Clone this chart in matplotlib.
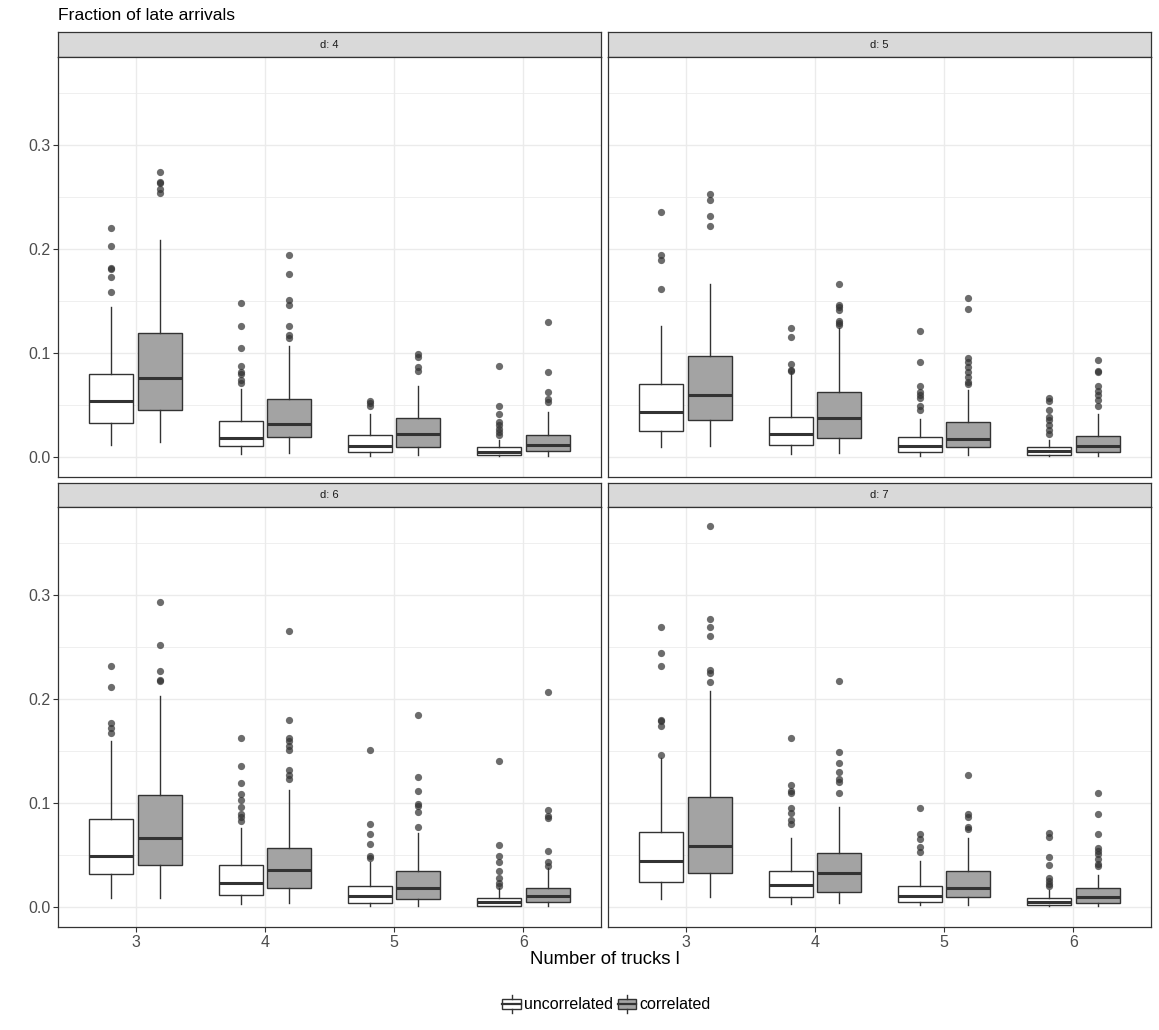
import numpy as np
import matplotlib
matplotlib.use("Agg")
import matplotlib.pyplot as plt
from matplotlib.patches import Rectangle
from matplotlib.lines import Line2D
from matplotlib.legend_handler import HandlerBase

plt.rcParams['font.family'] = ['Liberation Sans', 'DejaVu Sans']

trucks = [3, 4, 5, 6]
series = ["uncorrelated", "correlated"]
fills = ["#FFFFFF", "#A3A3A3"]
facets = ["d: 4", "d: 5", "d: 6", "d: 7"]

# (whisker low, q1, median, q3, whisker high) for l = 3, 4, 5, 6
d4_unc = [(0.0115, 0.032, 0.0535, 0.0791, 0.144), (0.0026, 0.0099, 0.0183, 0.034, 0.065),
          (0.001, 0.0042, 0.0106, 0.0208, 0.041), (0.0006, 0.0019, 0.0045, 0.0093, 0.0163)]
d4_cor = [(0.0138, 0.0451, 0.0756, 0.1194, 0.2085), (0.0038, 0.0189, 0.0317, 0.056, 0.1063),
          (0.0013, 0.0093, 0.0221, 0.0375, 0.0676), (0.001, 0.0051, 0.0115, 0.0205, 0.0432)]
d5_unc = [(0.009, 0.0247, 0.0432, 0.0695, 0.1258), (0.0029, 0.0109, 0.0218, 0.0384, 0.082),
          (0.001, 0.0045, 0.0099, 0.0189, 0.0365), (0.0006, 0.0019, 0.0051, 0.0093, 0.0163)]
d5_cor = [(0.0099, 0.0352, 0.0589, 0.0967, 0.1662), (0.0035, 0.0183, 0.0371, 0.0618, 0.1236),
          (0.0019, 0.0093, 0.017, 0.033, 0.0644), (0.001, 0.0048, 0.0106, 0.0199, 0.0413)]
d6_unc = [(0.0083, 0.0314, 0.0487, 0.0843, 0.159), (0.0026, 0.0109, 0.0231, 0.0397, 0.0753),
          (0.001, 0.0035, 0.0099, 0.0202, 0.0426), (0.0003, 0.001, 0.0042, 0.0083, 0.0179)]
d6_cor = [(0.0083, 0.0401, 0.0663, 0.1074, 0.2029), (0.0035, 0.0179, 0.0356, 0.0564, 0.1125),
          (0.001, 0.0077, 0.0179, 0.0343, 0.0708), (0.001, 0.0042, 0.0099, 0.0176, 0.0372)]
d7_unc = [(0.0077, 0.024, 0.0436, 0.0721, 0.143), (0.0029, 0.0093, 0.0205, 0.0343, 0.0657),
          (0.0016, 0.0045, 0.0103, 0.0202, 0.0439), (0.0006, 0.0013, 0.0045, 0.0087, 0.016)]
d7_cor = [(0.009, 0.032, 0.058, 0.1054, 0.2077), (0.0032, 0.0144, 0.0324, 0.0519, 0.0958),
          (0.0019, 0.0093, 0.0183, 0.0343, 0.066), (0.001, 0.0038, 0.0096, 0.0179, 0.0301)]

# outliers for l = 3, 4, 5, 6
d4_unc_out = [[0.22, 0.2027, 0.182, 0.1806, 0.1732, 0.158],
              [0.148, 0.1255, 0.105, 0.087, 0.0813, 0.0797, 0.074, 0.0708],
              [0.054, 0.0516, 0.0484],
              [0.0868, 0.049, 0.0407, 0.0333, 0.0301, 0.0269, 0.0237, 0.0211]]
d4_cor_out = [[0.274, 0.264, 0.263, 0.258, 0.254],
              [0.1944, 0.1755, 0.1508, 0.1463, 0.126, 0.1172, 0.1143],
              [0.099, 0.0957, 0.0861, 0.0823],
              [0.13, 0.0817, 0.0624, 0.0557, 0.0525]]
d5_unc_out = [[0.2357, 0.1937, 0.1892, 0.1617],
              [0.1242, 0.1153, 0.0893, 0.0836, 0.082],
              [0.1214, 0.0916, 0.0679, 0.0618, 0.0589, 0.0564, 0.0484, 0.0451],
              [0.0564, 0.0532, 0.0445, 0.0381, 0.0349, 0.0301, 0.0253, 0.0221]]
d5_cor_out = [[0.2523, 0.2472, 0.2312, 0.2216],
              [0.1662, 0.1457, 0.1438, 0.1412, 0.131, 0.1284, 0.1268],
              [0.1527, 0.1425, 0.0948, 0.091, 0.0861, 0.0813, 0.0765, 0.0717, 0.0695],
              [0.0932, 0.0829, 0.0813, 0.0685, 0.0637, 0.0589, 0.0548, 0.0484]]
d6_unc_out = [[0.2311, 0.2109, 0.1766, 0.1718, 0.1673],
              [0.1619, 0.1349, 0.1189, 0.1087, 0.1022, 0.0958, 0.0894, 0.0859, 0.0821],
              [0.151, 0.0795, 0.0702, 0.0603, 0.0484, 0.0468],
              [0.1404, 0.0593, 0.049, 0.0426, 0.0346, 0.0276, 0.0228, 0.0202]]
d6_cor_out = [[0.2936, 0.2513, 0.2272, 0.2183, 0.2167],
              [0.2657, 0.1798, 0.1622, 0.159, 0.1542, 0.151, 0.1317, 0.1269, 0.1228],
              [0.184, 0.1247, 0.1109, 0.099, 0.0965, 0.091, 0.0766],
              [0.2061, 0.0933, 0.0875, 0.0853, 0.0538, 0.0426, 0.0394]]
d7_unc_out = [[0.2692, 0.2439, 0.2317, 0.1798, 0.1785, 0.1734, 0.1458],
              [0.1622, 0.1167, 0.1112, 0.1096, 0.0952, 0.0904, 0.083, 0.0798],
              [0.0949, 0.0696, 0.0647, 0.0574, 0.0526],
              [0.0712, 0.0667, 0.0478, 0.0401, 0.0279, 0.0247, 0.0215, 0.0199]]
d7_cor_out = [[0.3667, 0.2772, 0.2689, 0.2603, 0.2276, 0.225, 0.2157],
              [0.2176, 0.149, 0.1385, 0.1298, 0.1224, 0.1199, 0.1093],
              [0.1266, 0.0888, 0.0862, 0.0769, 0.0744],
              [0.109, 0.0894, 0.0696, 0.0567, 0.0535, 0.0503, 0.0455, 0.0407, 0.0391]]

facet_data = [
    ((d4_unc, d4_unc_out), (d4_cor, d4_cor_out)),
    ((d5_unc, d5_unc_out), (d5_cor, d5_cor_out)),
    ((d6_unc, d6_unc_out), (d6_cor, d6_cor_out)),
    ((d7_unc, d7_unc_out), (d7_cor, d7_cor_out)),
]

W, H = 1159, 1030
DARK = "#333333"


def box(x0, y0, x1, y1):
    return [x0 / W, 1 - y1 / H, (x1 - x0) / W, (y1 - y0) / H]


fig = plt.figure(figsize=(W / 100, H / 100), dpi=100)

cols = [(58, 601), (608, 1151)]
rows = [(32, 57, 477), (483, 507, 927)]
x = np.arange(len(trucks))
offsets = [-0.1875, 0.1875]

for k, label in enumerate(facets):
    r, c = divmod(k, 2)
    xl, xr = cols[c]
    st, pt, pb = rows[r]

    sax = fig.add_axes(box(xl, st, xr, pt))
    sax.set_facecolor("#D9D9D9")
    sax.set_xticks([])
    sax.set_yticks([])
    for s in sax.spines.values():
        s.set_color(DARK)
        s.set_linewidth(0.9)
    sax.text(0.5, 0.5, label, ha="center", va="center", fontsize=8, color="#1A1A1A",
             transform=sax.transAxes)

    ax = fig.add_axes(box(xl, pt, xr, pb))
    ax.set_xlim(-0.6, 3.6)
    ax.set_ylim(-0.0195, 0.3845)
    ax.set_yticks([0.0, 0.1, 0.2, 0.3])
    ax.set_yticks([0.05, 0.15, 0.25, 0.35], minor=True)
    ax.set_xticks(x)
    ax.grid(True, which="major", color="#EBEBEB", lw=1.0)
    ax.grid(True, which="minor", axis="y", color="#EBEBEB", lw=0.55)
    ax.set_axisbelow(True)
    for s in ax.spines.values():
        s.set_color(DARK)
        s.set_linewidth(0.9)
    ax.tick_params(which="minor", length=0)
    ax.tick_params(which="major", color=DARK, length=3.5, width=0.8,
                   labelsize=11.5, labelcolor="#4D4D4D", pad=2)
    if r == 1:
        ax.set_xticklabels([str(t) for t in trucks])
    else:
        ax.tick_params(axis="x", length=0, labelbottom=False)
    if c == 0:
        ax.set_yticklabels(["0.0", "0.1", "0.2", "0.3"])
    else:
        ax.tick_params(axis="y", length=0, labelleft=False)

    for j, (stats5, outs) in enumerate(facet_data[k]):
        stats = []
        for (lo, q1, med, q3, hi), fl in zip(stats5, outs):
            stats.append(dict(whislo=lo, q1=q1, med=med, q3=q3, whishi=hi, fliers=fl))
        ax.bxp(stats, positions=x + offsets[j], widths=0.34, patch_artist=True,
               showcaps=False,
               boxprops=dict(facecolor=fills[j], edgecolor=DARK, lw=1.0),
               medianprops=dict(color=DARK, lw=2.2, solid_capstyle="butt"),
               whiskerprops=dict(color=DARK, lw=1.0),
               flierprops=dict(marker="o", markerfacecolor=DARK, markeredgecolor="none",
                               markersize=5.2, alpha=0.72),
               manage_ticks=False)

fig.text(58 / W, 1 - 15 / H, "Fraction of late arrivals", ha="left", va="center",
         fontsize=12.6, color="black")
fig.text(605 / W, 1 - 960 / H, "Number of trucks l", ha="center", va="center",
         fontsize=13.3, color="black")


class BoxKey(HandlerBase):
    def create_artists(self, legend, orig_handle, xdescent, ydescent, width, height,
                       fontsize, trans):
        x0, y0 = -xdescent, -ydescent
        fc = orig_handle.get_facecolor()
        rect = Rectangle((x0 + 0.05 * width, y0 + 0.23 * height), 0.9 * width, 0.54 * height,
                         facecolor=fc, edgecolor=DARK, lw=1.0, transform=trans)
        med = Line2D([x0 + 0.05 * width, x0 + 0.95 * width], [y0 + 0.5 * height] * 2,
                     color=DARK, lw=1.6, transform=trans)
        w1 = Line2D([x0 + 0.5 * width] * 2, [y0, y0 + 0.23 * height],
                    color=DARK, lw=1.0, transform=trans)
        w2 = Line2D([x0 + 0.5 * width] * 2, [y0 + 0.77 * height, y0 + height],
                    color=DARK, lw=1.0, transform=trans)
        return [rect, med, w1, w2]


handles = [Rectangle((0, 0), 1, 1, facecolor=f) for f in fills]
fig.legend(handles, series, handler_map={Rectangle: BoxKey()}, loc="center",
           bbox_to_anchor=(606 / W, 1 - 1004 / H), ncol=2, frameon=False,
           fontsize=11.5, handlelength=1.3, handleheight=1.4, handletextpad=0.15,
           columnspacing=0.2)

fig.savefig("out.png", dpi=100)
